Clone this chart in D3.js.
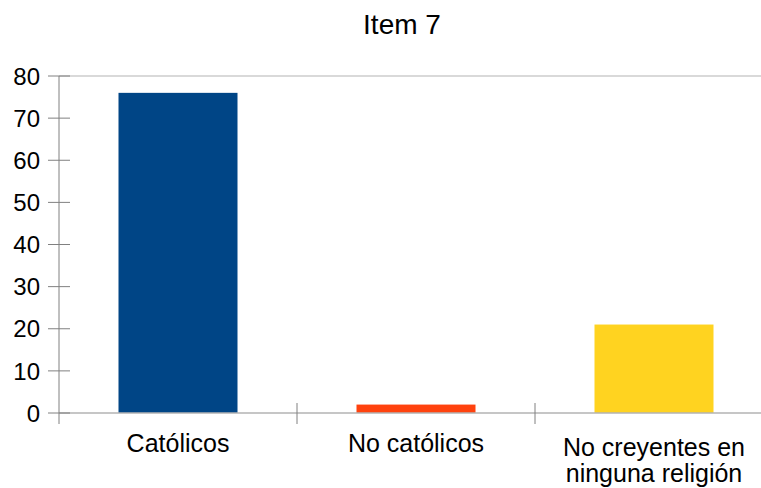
<!DOCTYPE html>
<html>
<head>
<meta charset="utf-8">
<script src="https://cdn.jsdelivr.net/npm/d3@7"></script>
<style>
  html, body { margin: 0; padding: 0; background: #fff; }
  svg { display: block; }
  text { font-family: "Liberation Sans", Arial, sans-serif; fill: #000; }
</style>
</head>
<body>
<script>
// Survey responses for item 7
const categories = [["Católicos"], ["No católicos"], ["No creyentes en", "ninguna religión"]];
const values = [76, 2, 21];
const colors = ["#004586", "#ff420e", "#ffd320"];
const yTicks = [0, 10, 20, 30, 40, 50, 60, 70, 80];
const title = "Item 7";

const width = 761, height = 488;
const margin = { left: 59, top: 76, bottom: 75 };
const plotRight = 773; // plot area continues slightly past the visible edge

const svg = d3.select("body").append("svg")
  .attr("width", width).attr("height", height);

const x = d3.scaleBand()
  .domain(d3.range(categories.length))
  .range([margin.left, plotRight])
  .paddingInner(0).paddingOuter(0);

const y = d3.scaleLinear()
  .domain([0, 80])
  .range([height - margin.bottom, margin.top]);

// top border of the plot area
svg.append("line")
  .attr("x1", margin.left).attr("x2", plotRight)
  .attr("y1", y(80)).attr("y2", y(80))
  .attr("stroke", "#b3b3b3").attr("stroke-width", 1);

// bars, half the band wide and centred
const barW = x.bandwidth() / 2;
svg.selectAll("rect.bar")
  .data(values)
  .join("rect")
  .attr("class", "bar")
  .attr("x", (d, i) => x(i) + (x.bandwidth() - barW) / 2)
  .attr("width", barW)
  .attr("y", d => y(d))
  .attr("height", d => y(0) - y(d))
  .attr("fill", (d, i) => colors[i]);

// baseline
svg.append("line")
  .attr("x1", margin.left).attr("x2", plotRight)
  .attr("y1", y(0)).attr("y2", y(0))
  .attr("stroke", "#b3b3b3").attr("stroke-width", 1.5);

// y axis with ticks crossing the axis line
const yAxis = svg.append("g").attr("class", "y-axis");
yAxis.append("line")
  .attr("x1", margin.left).attr("x2", margin.left)
  .attr("y1", y(80)).attr("y2", y(0) + 11)
  .attr("stroke", "#808080").attr("stroke-width", 1);
yAxis.selectAll("line.tick")
  .data(yTicks)
  .join("line")
  .attr("class", "tick")
  .attr("x1", margin.left - 11).attr("x2", margin.left + 11)
  .attr("y1", d => y(d)).attr("y2", d => y(d))
  .attr("stroke", "#808080").attr("stroke-width", 1);
yAxis.selectAll("text")
  .data(yTicks)
  .join("text")
  .attr("x", margin.left - 19)
  .attr("y", d => y(d))
  .attr("dy", "0.36em")
  .attr("text-anchor", "end")
  .attr("font-size", 24)
  .text(d => d);

// x axis category boundary ticks
const bounds = d3.range(categories.length + 1).map(i => margin.left + i * x.bandwidth());
svg.selectAll("line.xtick")
  .data(bounds.slice(1))
  .join("line")
  .attr("class", "xtick")
  .attr("x1", d => d).attr("x2", d => d)
  .attr("y1", y(0) - 10).attr("y2", y(0) + 11)
  .attr("stroke", "#808080").attr("stroke-width", 1);

// category labels; two-line labels sit a little lower
const lab = svg.selectAll("text.cat")
  .data(categories)
  .join("text")
  .attr("class", "cat")
  .attr("x", (d, i) => x(i) + x.bandwidth() / 2)
  .attr("y", d => y(0) + (d.length > 1 ? 43 : 39))
  .attr("text-anchor", "middle")
  .attr("font-size", 25);
lab.selectAll("tspan")
  .data((d, i) => d.map(t => ({ t, i })))
  .join("tspan")
  .attr("x", d => x(d.i) + x.bandwidth() / 2)
  .attr("dy", (d, j) => j === 0 ? 0 : 26)
  .text(d => d.t);

// title
svg.append("text")
  .attr("x", 402).attr("y", 34)
  .attr("text-anchor", "middle")
  .attr("font-size", 28)
  .text(title);
</script>
</body>
</html>
